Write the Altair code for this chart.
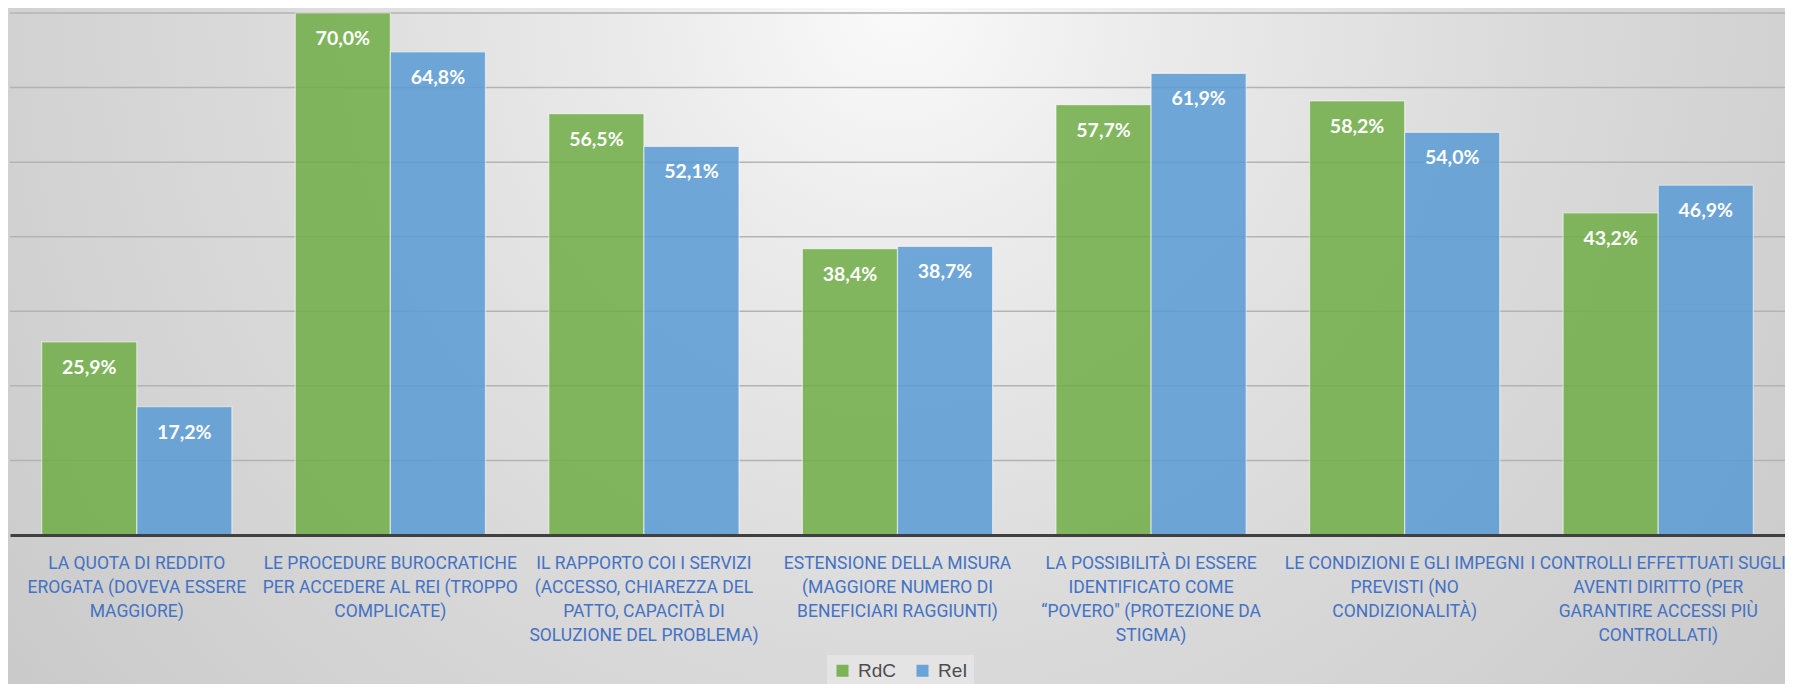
import altair as alt
import pandas as pd

# ---- data ----
categories = [
    "LA QUOTA DI REDDITO|EROGATA (DOVEVA ESSERE|MAGGIORE)",
    "LE PROCEDURE BUROCRATICHE|PER ACCEDERE AL REI (TROPPO|COMPLICATE)",
    "IL RAPPORTO COI I SERVIZI|(ACCESSO, CHIAREZZA DEL|PATTO, CAPACITÀ DI|SOLUZIONE DEL PROBLEMA)",
    "ESTENSIONE DELLA MISURA|(MAGGIORE NUMERO DI|BENEFICIARI RAGGIUNTI)",
    "LA POSSIBILITÀ DI ESSERE|IDENTIFICATO COME|“POVERO\" (PROTEZIONE DA|STIGMA)",
    "LE CONDIZIONI E GLI IMPEGNI|PREVISTI (NO|CONDIZIONALITÀ)",
    "I CONTROLLI EFFETTUATI SUGLI|AVENTI DIRITTO (PER|GARANTIRE ACCESSI PIÙ|CONTROLLATI)",
]
rdc = [25.9, 70.0, 56.5, 38.4, 57.7, 58.2, 43.2]
rei = [17.2, 64.8, 52.1, 38.7, 61.9, 54.0, 46.9]
series = ["RdC", "ReI"]
grid_ticks = [10, 20, 30, 40, 50, 60, 70]

GREEN = "#70AD47"
BLUE = "#5B9BD5"

rows = []
for c, a, b in zip(categories, rdc, rei):
    rows.append({"cat": c, "series": "RdC", "value": a,
                 "label": f"{a:.1f}".replace(".", ",") + "%"})
    rows.append({"cat": c, "series": "ReI", "value": b,
                 "label": f"{b:.1f}".replace(".", ",") + "%"})
df = pd.DataFrame(rows)
grid_df = pd.DataFrame({"v": grid_ticks})
bg_df = pd.DataFrame({"a": [0]})

W, H = 1775, 522

yscale = alt.Scale(domain=[0, 70], nice=False)
xenc = alt.X(
    "cat:N", sort=categories,
    scale=alt.Scale(paddingInner=0.25, paddingOuter=0.125),
    axis=alt.Axis(
        title=None, labelAngle=0, labelExpr="split(datum.label, '|')",
        labelColor="#4472C4", labelFont="Roboto, sans-serif",
        labelFontSize=17.5, labelLineHeight=24, labelPadding=19, labelLimit=500,
        labelOverlap=False, labelBound=False, labelFlush=False,
        ticks=False, tickSize=0, domainColor="#404040", domainWidth=3, zindex=1,
        grid=False,
    ),
)

bg = alt.Chart(bg_df).mark_rect(
    fill={
        "gradient": "radial",
        "x1": 0.5, "y1": 0.0, "r1": 0.0,
        "x2": 0.5, "y2": 0.0, "r2": 0.72,
        "stops": [
            {"offset": 0.0, "color": "#fafafa"},
            {"offset": 0.2, "color": "#ebebeb"},
            {"offset": 0.5, "color": "#dadada"},
            {"offset": 0.78, "color": "#cecece"},
            {"offset": 1.0, "color": "#c4c4c4"},
        ],
    }
).encode(
    x=alt.value(-2), x2=alt.value(W + 2),
    y=alt.value(-5), y2=alt.value(W - 3),
)

grid = alt.Chart(grid_df).mark_rule(color="#b3b3b3", strokeWidth=1.5).encode(
    y=alt.Y("v:Q", scale=yscale, axis=None),
    x=alt.value(0), x2=alt.value(W + 10),
)

base = alt.Chart(df).encode(
    x=xenc,
    xOffset=alt.XOffset("series:N", sort=series, scale=alt.Scale(paddingInner=0.0)),
    y=alt.Y("value:Q", scale=yscale, axis=None),
)

bars = base.mark_bar(
    fillOpacity=0.86, stroke="#ffffff", strokeOpacity=0.55, strokeWidth=1.2
).encode(
    color=alt.Color(
        "series:N",
        scale=alt.Scale(domain=series, range=[GREEN, BLUE]),
        legend=alt.Legend(
            title=None, orient="none", legendX=817, legendY=642,
            direction="horizontal", symbolType="square", symbolSize=144,
            symbolStrokeWidth=0, symbolOpacity=0.9,
            labelFontSize=19, labelColor="#4d4d4d", labelFont="Liberation Sans, Arial, sans-serif",
            labelOffset=6, columnPadding=16, fillColor="#e4e4e4", padding=6,
        ),
    )
)

labels = base.mark_text(
    dy=26, color="white", font="Lato", fontWeight="bold", fontSize=19.5, baseline="middle"
).encode(text="label:N")

chart = (
    alt.layer(bg, grid, bars, labels)
    .properties(
        width=W, height=H,
        padding={"left": 2, "top": 5, "right": 0, "bottom": 149},
        autosize=alt.AutoSizeParams(type="none"),
        background="#d4d4d4",
    )
    .configure_view(strokeWidth=0)
)

chart.save("out.html", embed_options={"renderer": "svg", "actions": False})
